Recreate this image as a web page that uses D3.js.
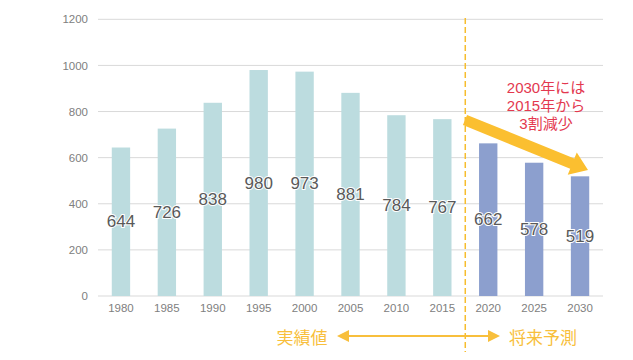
<!DOCTYPE html>
<html><head><meta charset="utf-8">
<script src="https://cdn.jsdelivr.net/npm/d3@7"></script>
<style>body{margin:0;background:#fff;} svg{display:block;}</style>
</head><body>
<svg id="c" width="633" height="360"></svg>
<script>
const years = ["1980","1985","1990","1995","2000","2005","2010","2015","2020","2025","2030"];
const values = [644,726,838,980,973,881,784,767,662,578,519];
const forecastFrom = "2020";
const yTicks = [0,200,400,600,800,1000,1200];
const noteLines = ["2030年には","2015年から","3割減少"];
const leftLabel = "実績値";
const rightLabel = "将来予測";

const svg = d3.select("#c");
const m = {l:98, r:30, t:19.3, b:64};
const W = 633, H = 360;
const x = d3.scaleBand().domain(years).range([m.l, W - m.r]).paddingInner(0.6).paddingOuter(0.3);
const y = d3.scaleLinear().domain([0,1200]).range([296, 19.3]);
const numFont = "'Liberation Sans',Arial,sans-serif";

// grid
svg.append("g").selectAll("line").data(yTicks).join("line")
  .attr("x1", m.l).attr("x2", 603).attr("y1", d=>y(d)).attr("y2", d=>y(d))
  .attr("stroke", "#d9d9d9").attr("stroke-width", 1);

// y axis labels
const ya = svg.append("g").attr("transform", `translate(${m.l},0)`)
  .call(d3.axisLeft(y).tickValues(yTicks).tickFormat(d3.format("d")).tickSize(0).tickPadding(10));
ya.select(".domain").remove();
ya.selectAll("text").attr("fill","#808080").style("font-family",numFont).style("font-size","11.5px");

// x axis labels
const xa = svg.append("g").attr("transform", `translate(0,296)`)
  .call(d3.axisBottom(x).tickSize(0).tickPadding(8));
xa.select(".domain").remove();
xa.selectAll("text").attr("fill","#808080").style("font-family",numFont).style("font-size","11.5px");

const fi = years.indexOf(forecastFrom);
// bars
svg.append("g").selectAll("rect").data(values).join("rect")
  .attr("x", (d,i)=>x(years[i])).attr("width", x.bandwidth())
  .attr("y", d=>y(d)).attr("height", d=>296 - y(d))
  .attr("fill", (d,i)=> i>=fi ? "#8c9fce" : "#bcdcdf");

// value labels
svg.append("g").selectAll("text").data(values).join("text")
  .attr("x", (d,i)=>x(years[i]) + x.bandwidth()/2)
  .attr("y", d=> (y(d)+296)/2)
  .attr("text-anchor","middle").attr("dominant-baseline","central")
  .attr("fill","#595959").attr("stroke","#fff").attr("stroke-width",2)
  .attr("paint-order","stroke")
  .style("font-family",numFont).style("font-size","17px")
  .text(d=>d);

// divider
const dx = (x(years[fi-1]) + x.bandwidth() + x(years[fi]))/2;
svg.append("line").attr("x1", dx).attr("x2", dx).attr("y1", 18).attr("y2", 352)
  .attr("stroke","#f6bd2e").attr("stroke-width",1.5).attr("stroke-dasharray","6,3");

const orange = "#f8bf3c";
const cjk = "'Noto Sans CJK JP','Noto Sans CJK SC',sans-serif";
// bottom arrows
const ay = 336;
svg.append("line").attr("x1", 348).attr("x2", 489).attr("y1", ay).attr("y2", ay)
  .attr("stroke", orange).attr("stroke-width", 2);
svg.append("path").attr("d", `M337,${ay} L349,${ay-6} L349,${ay+6} Z`).attr("fill", orange);
svg.append("path").attr("d", `M500,${ay} L488,${ay-6} L488,${ay+6} Z`).attr("fill", orange);
svg.append("text").attr("x", 302).attr("y", ay).attr("text-anchor","middle").attr("dominant-baseline","central")
  .attr("fill", orange).style("font-family", cjk).style("font-size","17px").text(leftLabel);
svg.append("text").attr("x", 543).attr("y", ay).attr("text-anchor","middle").attr("dominant-baseline","central")
  .attr("fill", orange).style("font-family", cjk).style("font-size","17px").text(rightLabel);

// big arrow
const x0 = 465, y0 = 120, x1 = 588, y1 = 170;
const ang = Math.atan2(y1-y0, x1-x0);
const len = Math.hypot(x1-x0, y1-y0);
const hw = 5.5, hl = 17, hh = 12;
const g = svg.append("g").attr("transform", `translate(${x0},${y0}) rotate(${ang*180/Math.PI})`);
g.append("path").attr("d", `M0,${-hw} L${len-hl},${-hw} L${len-hl},${-hh} L${len},0 L${len-hl},${hh} L${len-hl},${hw} L0,${hw} Z`)
  .attr("fill", "#fbbf30");

// note (one text block, three lines)
const note = svg.append("text").attr("text-anchor","middle")
  .attr("fill","#e3384f").style("font-family", "'Liberation Sans'," + cjk).style("font-size","15px");
note.selectAll("tspan").data(noteLines).join("tspan")
  .attr("x", 546).attr("y", (d,i)=> 93 + i*18)
  .text(d=>d);
</script>
</body></html>
